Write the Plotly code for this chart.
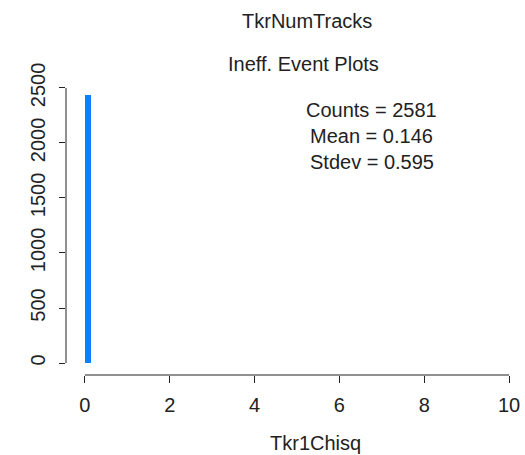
import plotly.graph_objects as go

# Data
bin_centers = [0.08]
bin_counts = [2435]
bar_width = 0.15
x_ticks = [0, 2, 4, 6, 8, 10]
y_ticks = [0, 500, 1000, 1500, 2000, 2500]
title = "TkrNumTracks"
subtitle = "Ineff. Event Plots"
x_label = "Tkr1Chisq"
stats = ["Counts = 2581", "Mean = 0.146", "Stdev = 0.595"]

W, H = 525, 455
L, R, T, B = 66, 5, 85, 80
pw, ph = W - L - R, H - T - B

def px_x(p):
    return (p - L) / pw

def px_y(p):
    return (H - B - p) / ph

FONT = "Liberation Sans, Arial, sans-serif"
fs = 20
TC = "#222"

fig = go.Figure()
fig.add_trace(go.Bar(x=bin_centers, y=bin_counts, width=bar_width,
                     marker=dict(color="#0a80ff", line=dict(width=0)),
                     showlegend=False))

fig.update_layout(
    width=W, height=H,
    margin=dict(l=L, r=R, t=T, b=B),
    paper_bgcolor="white", plot_bgcolor="white",
    font=dict(family=FONT, size=fs, color=TC),
    xaxis=dict(range=[-0.446, 10.21], tickvals=x_ticks, ticktext=[str(v) for v in x_ticks],
               showgrid=False, zeroline=False, showline=False,
               ticks="outside", ticklen=7, tickcolor=TC, tickwidth=1, ticklabelstandoff=5,
               tickfont=dict(size=fs, family=FONT, color=TC)),
    yaxis=dict(range=[-109, 2527], tickvals=y_ticks, ticktext=[str(v) for v in y_ticks],
               showgrid=False, zeroline=False, showline=False,
               ticks="outside", ticklen=6, tickcolor=TC, tickwidth=1, tickangle=-90,
               ticklabelstandoff=6,
               tickfont=dict(size=fs, family=FONT, color=TC)),
    bargap=0,
)

# detached R-style axis lines
fig.add_shape(type="line", xref="x", yref="paper", x0=x_ticks[0], x1=x_ticks[-1], y0=0, y1=0,
              line=dict(color=TC, width=1))
fig.add_shape(type="line", xref="paper", yref="y", x0=0, x1=0, y0=y_ticks[0], y1=y_ticks[-1],
              line=dict(color=TC, width=1))

ann = [
    (title, 308, 21),
    (subtitle, 305, 64),
    (x_label, 317, 443),
]
for txt, xp, yp in ann:
    fig.add_annotation(text=txt, xref="paper", yref="paper", x=px_x(xp), y=px_y(yp),
                       xanchor="center", yanchor="middle", showarrow=False,
                       font=dict(size=fs, family=FONT, color=TC))
for txt, yp in zip(stats, [110, 136, 162]):
    fig.add_annotation(text=txt, xref="paper", yref="paper", x=px_x(373), y=px_y(yp),
                       xanchor="center", yanchor="middle", showarrow=False,
                       font=dict(size=fs, family=FONT, color=TC))

fig.write_html("out.html")
